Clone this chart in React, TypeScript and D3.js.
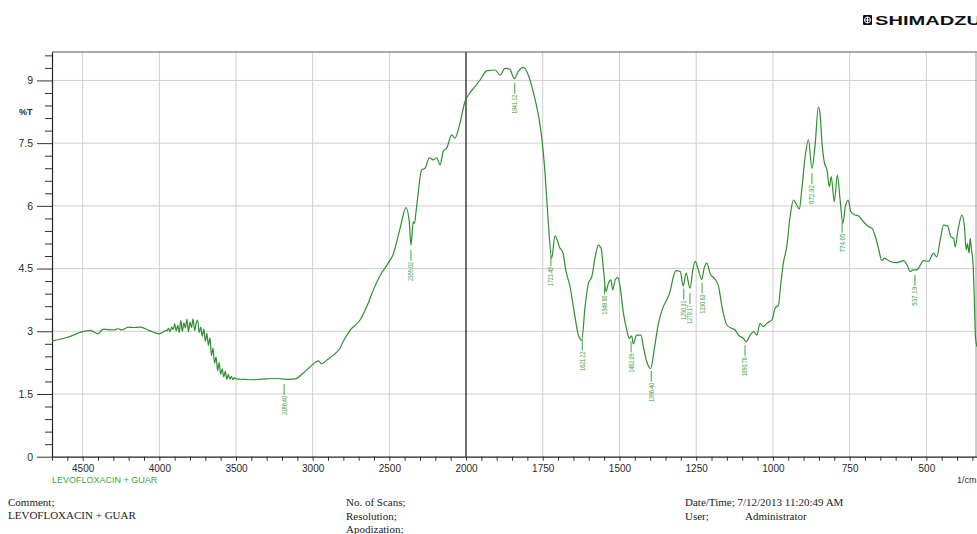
import React, { useRef, useEffect } from 'react';
import * as d3 from 'd3';

// spectrum, wavenumber (1/cm) -> %T
const wavenumber = [
  4700, 4603, 4500, 4451, 4401, 4364, 4299, 4267, 4245, 4201, 4169, 4125, 4060, 3999, 3962,
  3950, 3940, 3930, 3920, 3910, 3900, 3890, 3880, 3870, 3860, 3850, 3840, 3830, 3820, 3810,
  3800, 3790, 3780, 3770, 3760, 3750, 3740, 3730, 3720, 3710, 3700, 3690, 3680, 3670, 3660,
  3650, 3640, 3630, 3620, 3610, 3600, 3590, 3580, 3570, 3560, 3550, 3540, 3530, 3520, 3510,
  3500, 3450, 3400, 3350, 3300, 3250, 3200, 3150, 3115, 3061, 2995, 2963, 2941, 2908, 2865,
  2821, 2800, 2756, 2691, 2647, 2604, 2561, 2507, 2474, 2430, 2391, 2370, 2359, 2344, 2337,
  2321, 2289, 2267, 2239, 2213, 2191, 2169, 2148, 2126, 2093, 2072, 2039, 2007, 1992, 1971,
  1954, 1933, 1905, 1889, 1873, 1857, 1843, 1830, 1813, 1797, 1781, 1764, 1753, 1742, 1732,
  1721, 1710, 1694, 1685, 1674, 1661, 1645, 1634, 1623, 1612, 1601, 1590, 1579, 1569, 1560,
  1552, 1544, 1536, 1528, 1522, 1514, 1505, 1498, 1487, 1476, 1468, 1460, 1455, 1444, 1430,
  1422, 1411, 1398, 1387, 1373, 1357, 1346, 1335, 1324, 1316, 1302, 1292, 1283, 1270, 1261,
  1253, 1243, 1232, 1224, 1215, 1205, 1188, 1177, 1166, 1150, 1134, 1123, 1112, 1096, 1087,
  1074, 1063, 1052, 1042, 1031, 1020, 1003, 993, 982, 974, 966, 955, 944, 933, 922,
  914, 906, 895, 884, 873, 862, 852, 846, 840, 833, 824, 816, 810, 800, 790,
  781, 772, 764, 755, 746, 732, 721, 705, 688, 677, 666, 655, 645, 637, 618,
  596, 574, 563, 553, 542, 531, 509, 493, 477, 466, 455, 444, 431, 420, 411,
  406, 397, 384, 376, 370, 366, 361, 357, 353, 348, 344, 340, 335,
];

const percentT = [
  2.77, 2.85, 2.99, 3.02, 2.94, 3.05, 3.03, 3.06, 3.03, 3.1, 3.09, 3.1, 3.01, 2.94, 3.01,
  3.02, 3.07, 2.99, 3.1, 3.04, 3.18, 3.01, 3.14, 2.97, 3.26, 3.0, 3.2, 3.08, 3.29, 2.99,
  3.22, 3.09, 3.3, 3.02, 3.19, 3.27, 2.97, 3.1, 2.88, 3.05, 2.76, 2.95, 2.66, 2.84, 2.42,
  2.6, 2.24, 2.38, 2.06, 2.25, 1.97, 2.1, 1.91, 2.04, 1.85, 1.97, 1.86, 1.92, 1.84, 1.89,
  1.86, 1.85, 1.84, 1.85, 1.86, 1.87, 1.86, 1.85, 1.86, 2.0, 2.22, 2.29, 2.22, 2.31, 2.43,
  2.6, 2.76, 3.02, 3.27, 3.59, 3.99, 4.33, 4.63, 4.85, 5.46, 5.96, 5.62, 5.06, 5.62, 5.58,
  6.02, 6.86, 6.9, 7.15, 7.1, 7.15, 6.98, 7.31, 7.38, 7.7, 7.62, 7.98, 8.49, 8.65, 8.85,
  9.01, 9.23, 9.25, 9.13, 9.29, 9.27, 9.04, 9.21, 9.31, 9.13, 8.73, 8.17, 7.62, 6.74, 5.62,
  4.75, 5.28, 4.99, 4.9, 4.43, 4.07, 3.35, 2.91, 2.79, 3.59, 4.15, 4.31, 4.78, 5.06, 4.99,
  4.47, 3.95, 4.15, 4.23, 3.99, 4.23, 4.29, 4.07, 3.43, 3.03, 2.83, 2.89, 2.7, 2.91, 2.91,
  2.63, 2.27, 2.11, 2.55, 3.19, 3.59, 3.75, 3.95, 4.31, 4.45, 4.43, 4.08, 4.39, 4.03, 4.47,
  4.67, 4.47, 4.24, 4.51, 4.63, 4.39, 4.24, 4.07, 3.59, 3.15, 3.07, 3.03, 2.91, 2.83, 2.75,
  2.91, 2.99, 2.91, 3.19, 3.11, 3.19, 3.27, 3.55, 3.63, 4.15, 4.63, 5.02, 5.74, 6.14, 6.02,
  5.92, 6.38, 7.18, 7.58, 6.9, 7.5, 8.37, 8.17, 7.5, 7.06, 6.86, 6.46, 6.7, 6.1, 6.74,
  6.14, 5.58, 5.98, 6.14, 5.86, 5.78, 5.76, 5.62, 5.5, 5.46, 5.26, 4.95, 4.69, 4.75, 4.67,
  4.64, 4.69, 4.59, 4.43, 4.47, 4.47, 4.69, 4.67, 4.87, 4.78, 5.18, 5.54, 5.52, 5.26, 5.22,
  5.02, 5.42, 5.78, 5.5, 4.95, 5.1, 4.87, 5.22, 4.95, 4.63, 3.83, 2.87, 2.63,
];

const peakWavenumber = [3186.4, 2359.02, 1841.12, 1723.45, 1621.22, 1548.8, 1462.09, 1396.4, 1290.31, 1270.17, 1230.63, 1090.78, 872.92, 774.65, 537.19];
const peakLabel = ['3186.40', '2359.02', '1841.12', '1723.45', '1621.22', '1548.80', '1462.09', '1396.40', '1290.31', '1270.17', '1230.63', '1090.78', '872.92', '774.65', '537.19'];

const xMajorTicks = [4500, 4000, 3500, 3000, 2500, 2000, 1750, 1500, 1250, 1000, 750, 500];
const yMajorTicks = [0, 1.5, 3, 4.5, 6, 7.5, 9];

const sampleName = 'LEVOFLOXACIN + GUAR';

const W = 977;
const H = 534;
const left = 52;
const top = 52;
const bottom = 456.7;
const green = '#2f8f2f';
const labelGreen = '#3fa33f';

const App = () => {
  const ref = useRef(null);

  useEffect(() => {
    const svg = d3.select(ref.current);
    svg.selectAll('*').remove();

    // the axis is split at 2000: 500/cm per grid cell on the left, 250/cm on the right
    const x = d3.scaleLinear().domain([4700, 2000, 335]).range([left, 466, W]);
    const y = d3.scaleLinear().domain([0, 9.68]).range([bottom, top]);

    const data = wavenumber.map((w, i) => ({ w, t: percentT[i] }));

    // grid
    const grid = svg.append('g');
    grid
      .selectAll('line.h')
      .data(yMajorTicks.filter(d => d > 0))
      .enter()
      .append('line')
      .attr('x1', left)
      .attr('x2', W)
      .attr('y1', d => y(d))
      .attr('y2', d => y(d))
      .attr('stroke', '#cfcfcf')
      .attr('stroke-width', 1);
    grid
      .selectAll('line.v')
      .data(xMajorTicks)
      .enter()
      .append('line')
      .attr('x1', d => x(d))
      .attr('x2', d => x(d))
      .attr('y1', top)
      .attr('y2', bottom)
      .attr('stroke', d => (d === 2000 ? '#222' : '#cfcfcf'))
      .attr('stroke-width', d => (d === 2000 ? 1.3 : 1));

    // frame top / right
    svg.append('line').attr('x1', left).attr('x2', W).attr('y1', top).attr('y2', top).attr('stroke', '#555').attr('stroke-width', 1.2);
    svg.append('line').attr('x1', W - 1).attr('x2', W - 1).attr('y1', top).attr('y2', bottom).attr('stroke', '#999');

    // x axis, minor ticks every 100 left of 2000, every 50 right of it
    const xTicks = d3.range(4700, 2000, -100).concat(d3.range(2000, 330, -50));
    const xAxis = d3
      .axisBottom(x)
      .tickValues(xTicks)
      .tickSize(4)
      .tickSizeOuter(0)
      .tickPadding(4)
      .tickFormat(d => (xMajorTicks.includes(d) ? String(d) : ''));
    const gx = svg.append('g').attr('transform', `translate(0,${bottom})`).call(xAxis);
    gx.select('.domain').attr('stroke', '#222').attr('stroke-width', 1.2);
    gx.selectAll('.tick line').attr('stroke', '#333');
    gx.selectAll('.tick text')
      .attr('fill', '#2a2a2a')
      .style('font-family', '"Liberation Sans", Arial, sans-serif')
      .style('font-size', '10px');

    // y axis, minor ticks every 0.3
    const yTicks = d3.range(0, 33).map(i => +(i * 0.3).toFixed(1));
    const yAxis = d3
      .axisLeft(y)
      .tickValues(yTicks)
      .tickSize(15)
      .tickSizeOuter(0)
      .tickPadding(4)
      .tickFormat(d => (yMajorTicks.includes(d) ? String(d) : ''));
    const gy = svg.append('g').attr('transform', `translate(${left},0)`).call(yAxis);
    gy.select('.domain').attr('stroke', '#222').attr('stroke-width', 1.2);
    gy.selectAll('.tick line')
      .attr('stroke', '#333')
      .attr('x2', d => (yMajorTicks.includes(d) ? -15 : -7));
    gy.selectAll('.tick text')
      .attr('fill', '#2a2a2a')
      .style('font-family', '"Liberation Sans", Arial, sans-serif')
      .style('font-size', '10.5px');

    svg.append('text')
      .attr('x', 19)
      .attr('y', 115)
      .attr('fill', '#2a2a2a')
      .style('font-family', '"Liberation Sans", Arial, sans-serif')
      .style('font-size', '9px')
      .style('font-weight', 'bold')
      .text('%T');

    // spectrum
    const line = d3
      .line()
      .x(d => x(d.w))
      .y(d => y(d.t))
      .curve(d3.curveMonotoneX);
    svg.append('path')
      .datum(data)
      .attr('d', line)
      .attr('fill', 'none')
      .attr('stroke', green)
      .attr('stroke-width', 1.2);

    // peak picks: short line under the curve, then the value written upward
    const bis = d3.bisector(d => -d.w).left;
    const valueAt = w => {
      const i = Math.min(Math.max(bis(data, -w), 1), data.length - 1);
      const a = data[i - 1];
      const b = data[i];
      return a.t + ((b.t - a.t) * (w - a.w)) / (b.w - a.w);
    };
    const peaks = svg.append('g');
    peakWavenumber.forEach((w, i) => {
      const px = x(w);
      const py = y(valueAt(w)) + 5;
      peaks.append('line')
        .attr('x1', px)
        .attr('x2', px)
        .attr('y1', py)
        .attr('y2', py + 11)
        .attr('stroke', labelGreen)
        .attr('stroke-width', 1);
      peaks.append('text')
        .attr('transform', `translate(${px},${py + 12}) rotate(-90)`)
        .attr('text-anchor', 'end')
        .attr('dy', '0.35em')
        .attr('fill', labelGreen)
        .attr('textLength', 19)
        .attr('lengthAdjust', 'spacingAndGlyphs')
        .style('font-family', '"Liberation Sans Narrow", "Liberation Sans", Arial, sans-serif')
        .style('font-size', '7px')
        .text(peakLabel[i]);
    });

    svg.append('text')
      .attr('x', left)
      .attr('y', 483)
      .attr('fill', '#3aa83a')
      .style('font-family', '"Liberation Sans", Arial, sans-serif')
      .style('font-size', '9px')
      .text(sampleName);

    svg.append('text')
      .attr('x', 957)
      .attr('y', 483)
      .attr('fill', '#2a2a2a')
      .style('font-family', '"Liberation Sans", Arial, sans-serif')
      .style('font-size', '9px')
      .text('1/cm');

    // footer
    const footer = [
      ['Comment;', 8, 506],
      [sampleName, 8, 519],
      ['No. of Scans;', 346, 506],
      ['Resolution;', 346, 520],
      ['Apodization;', 346, 533],
      ['Date/Time; 7/12/2013 11:20:49 AM', 685, 506],
      ['User;', 685, 520],
      ['Administrator', 745, 520],
    ];
    svg.append('g')
      .selectAll('text')
      .data(footer)
      .enter()
      .append('text')
      .attr('x', d => d[1])
      .attr('y', d => d[2])
      .attr('fill', '#222')
      .style('font-family', '"Liberation Serif", "Times New Roman", serif')
      .style('font-size', '11px')
      .text(d => d[0]);

    // logo
    const logo = svg.append('g').attr('transform', 'translate(863,15)');
    logo.append('rect').attr('width', 9).attr('height', 10).attr('rx', 1).attr('fill', '#111');
    logo.append('circle').attr('cx', 4.5).attr('cy', 5).attr('r', 3).attr('fill', 'none').attr('stroke', '#fff').attr('stroke-width', 1);
    logo.append('line').attr('x1', 4.5).attr('x2', 4.5).attr('y1', 2).attr('y2', 8).attr('stroke', '#fff').attr('stroke-width', 1);
    logo.append('line').attr('x1', 1.5).attr('x2', 7.5).attr('y1', 5).attr('y2', 5).attr('stroke', '#fff').attr('stroke-width', 1);
    logo.append('text')
      .attr('x', 12)
      .attr('y', 10)
      .attr('fill', '#111')
      .attr('textLength', 106)
      .attr('lengthAdjust', 'spacingAndGlyphs')
      .style('font-family', '"Liberation Sans", Arial, sans-serif')
      .style('font-size', '13.5px')
      .style('font-weight', 'bold')
      .text('SHIMADZU');
  }, []);

  return (
    <svg
      ref={ref}
      width={W}
      height={H}
      style={{ position: 'absolute', left: 0, top: 0, background: '#fff' }}
    />
  );
};

export default App;
